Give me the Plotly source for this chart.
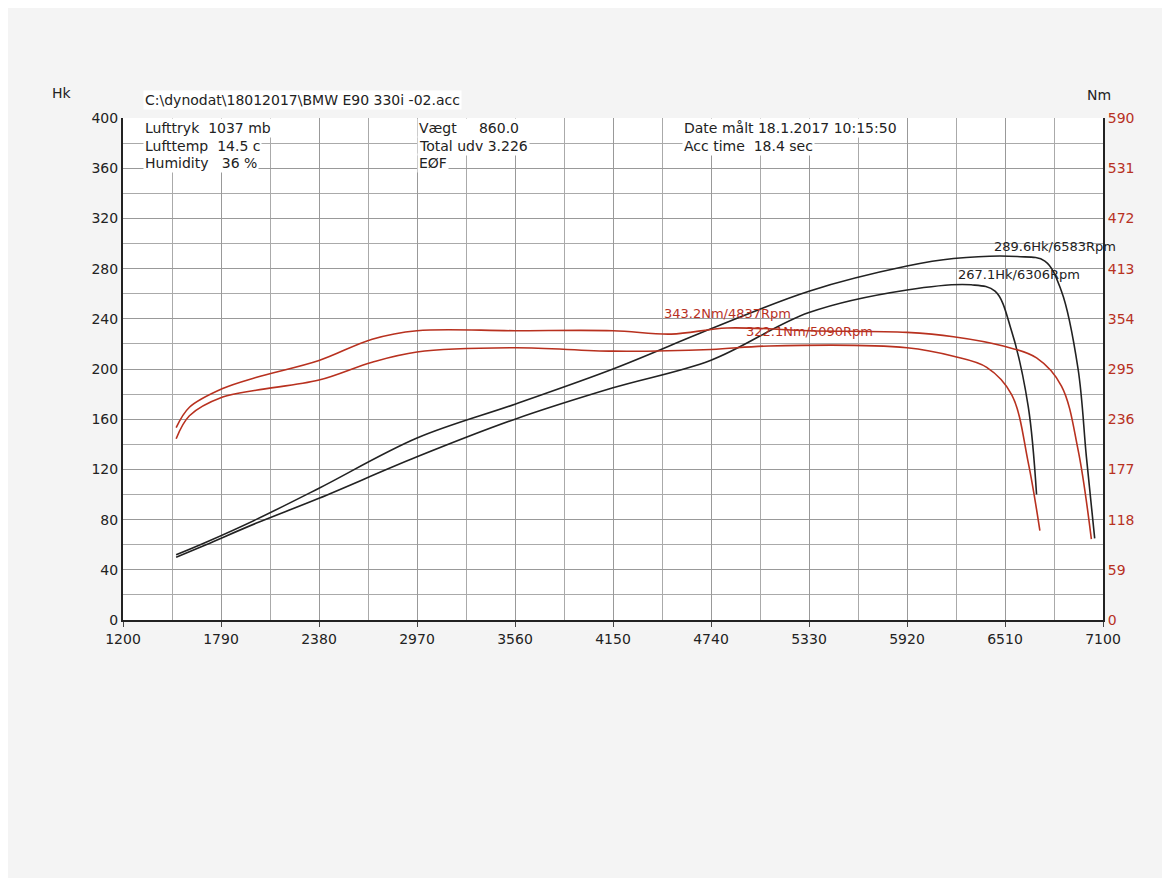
import plotly.graph_objects as go

rpm_p1 = [1520, 1700, 2000, 2380, 2970, 3560, 4150, 4740, 5330, 5920, 6200, 6583, 6750, 6850, 6950, 7000, 7050]
hk_p1 = [52, 62, 80, 105, 145, 172, 200, 232, 262, 282, 288, 289.6, 286, 262, 200, 130, 65]
rpm_p2 = [1520, 1700, 2000, 2380, 2970, 3560, 4150, 4740, 5330, 5920, 6306, 6450, 6550, 6650, 6700]
hk_p2 = [50, 60, 77, 97, 130, 160, 185, 207, 245, 263, 267.1, 262, 230, 170, 100]
rpm_t1 = [1520, 1600, 1800, 2000, 2380, 2700, 2970, 3560, 4150, 4500, 4837, 5330, 5920, 6200, 6500, 6700, 6850, 6950, 7030]
nm_t1 = [226, 250, 272, 285, 305, 330, 340, 340, 340, 336, 343.2, 340, 338, 333, 322, 308, 275, 200, 95]
rpm_t2 = [1520, 1600, 1800, 2000, 2380, 2700, 2970, 3560, 4150, 4740, 5090, 5920, 6200, 6400, 6550, 6650, 6720]
nm_t2 = [213, 240, 262, 270, 282, 303, 315, 320, 316, 318, 322.1, 320, 310, 297, 265, 185, 105]
x_ticks = [1200, 1790, 2380, 2970, 3560, 4150, 4740, 5330, 5920, 6510, 7100]
hk_ticks = [0, 40, 80, 120, 160, 200, 240, 280, 320, 360, 400]
nm_ticks = [0, 59, 118, 177, 236, 295, 354, 413, 472, 531, 590]

fig = go.Figure()
fig.add_trace(go.Scatter(x=rpm_p1, y=hk_p1, mode="lines", line=dict(color="#222", width=1.6, shape="spline")))
fig.add_trace(go.Scatter(x=rpm_p2, y=hk_p2, mode="lines", line=dict(color="#222", width=1.6, shape="spline")))
fig.add_trace(go.Scatter(x=rpm_t1, y=nm_t1, yaxis="y2", mode="lines", line=dict(color="#b8311f", width=1.6, shape="spline")))
fig.add_trace(go.Scatter(x=rpm_t2, y=nm_t2, yaxis="y2", mode="lines", line=dict(color="#b8311f", width=1.6, shape="spline")))

fig.add_annotation(x=6583, y=289.6, text="289.6Hk/6583Rpm", showarrow=False, yshift=10, xanchor="left", xshift=-25, font=dict(size=13, color="#222"))
fig.add_annotation(x=6306, y=267.1, text="267.1Hk/6306Rpm", showarrow=False, yshift=10, xanchor="left", xshift=-15, font=dict(size=13, color="#222"))
fig.add_annotation(x=4837, y=343.2, yref="y2", text="343.2Nm/4837Rpm", showarrow=False, yshift=14, xanchor="center", font=dict(size=13, color="#b8311f"))
fig.add_annotation(x=5090, y=322.1, yref="y2", text="322.1Nm/5090Rpm", showarrow=False, yshift=14, xanchor="left", xshift=-25, font=dict(size=13, color="#b8311f"))

f = dict(family="DejaVu Sans", size=14, color="#222")
hdr = [
    (0.02, 1.055, "C:\\dynodat\\18012017\\BMW E90 330i -02.acc"),
    (0.02, 1.0, "Lufttryk  1037 mb"), (0.02, 0.965, "Lufttemp  14.5 c"), (0.02, 0.93, "Humidity   36 %"),
    (0.30, 1.0, "Vægt     860.0"), (0.30, 0.965, "Total udv 3.226"), (0.30, 0.93, "EØF"),
    (0.57, 1.0, "Date målt 18.1.2017 10:15:50"), (0.57, 0.965, "Acc time  18.4 sec"),
]
for x, y, t in hdr:
    fig.add_annotation(xref="paper", yref="paper", x=x, y=y, text=t, showarrow=False, xanchor="left",
                       font=f, bgcolor="white")
fig.add_annotation(xref="paper", yref="paper", x=-0.075, y=1.07, text="Hk", showarrow=False, font=f)
fig.add_annotation(xref="paper", yref="paper", x=1.01, y=1.065, text="Nm", showarrow=False, font=f)

fig.update_layout(
    width=1170, height=878, paper_bgcolor="#f4f4f4", plot_bgcolor="white", showlegend=False,
    margin=dict(l=115, r=75, t=110, b=266), font=f,
    xaxis=dict(range=[1200, 7100], tickvals=x_ticks, showgrid=True, gridcolor="#999", gridwidth=1,
               minor=dict(dtick=295, tick0=1200, showgrid=True, gridcolor="#aaa"),
               showline=True, linecolor="#222", linewidth=2, ticks="outside", zeroline=False),
    yaxis=dict(range=[0, 400], tickvals=hk_ticks, showgrid=True, gridcolor="#999",
               minor=dict(dtick=20, showgrid=True, gridcolor="#aaa"),
               showline=True, linecolor="#222", linewidth=2, zeroline=False),
    yaxis2=dict(range=[0, 590], tickvals=nm_ticks, overlaying="y", side="right", showgrid=False,
                showline=True, linecolor="#222", linewidth=2, tickfont=dict(color="#b8311f", size=14), zeroline=False),
)
fig.write_html("out.html")
